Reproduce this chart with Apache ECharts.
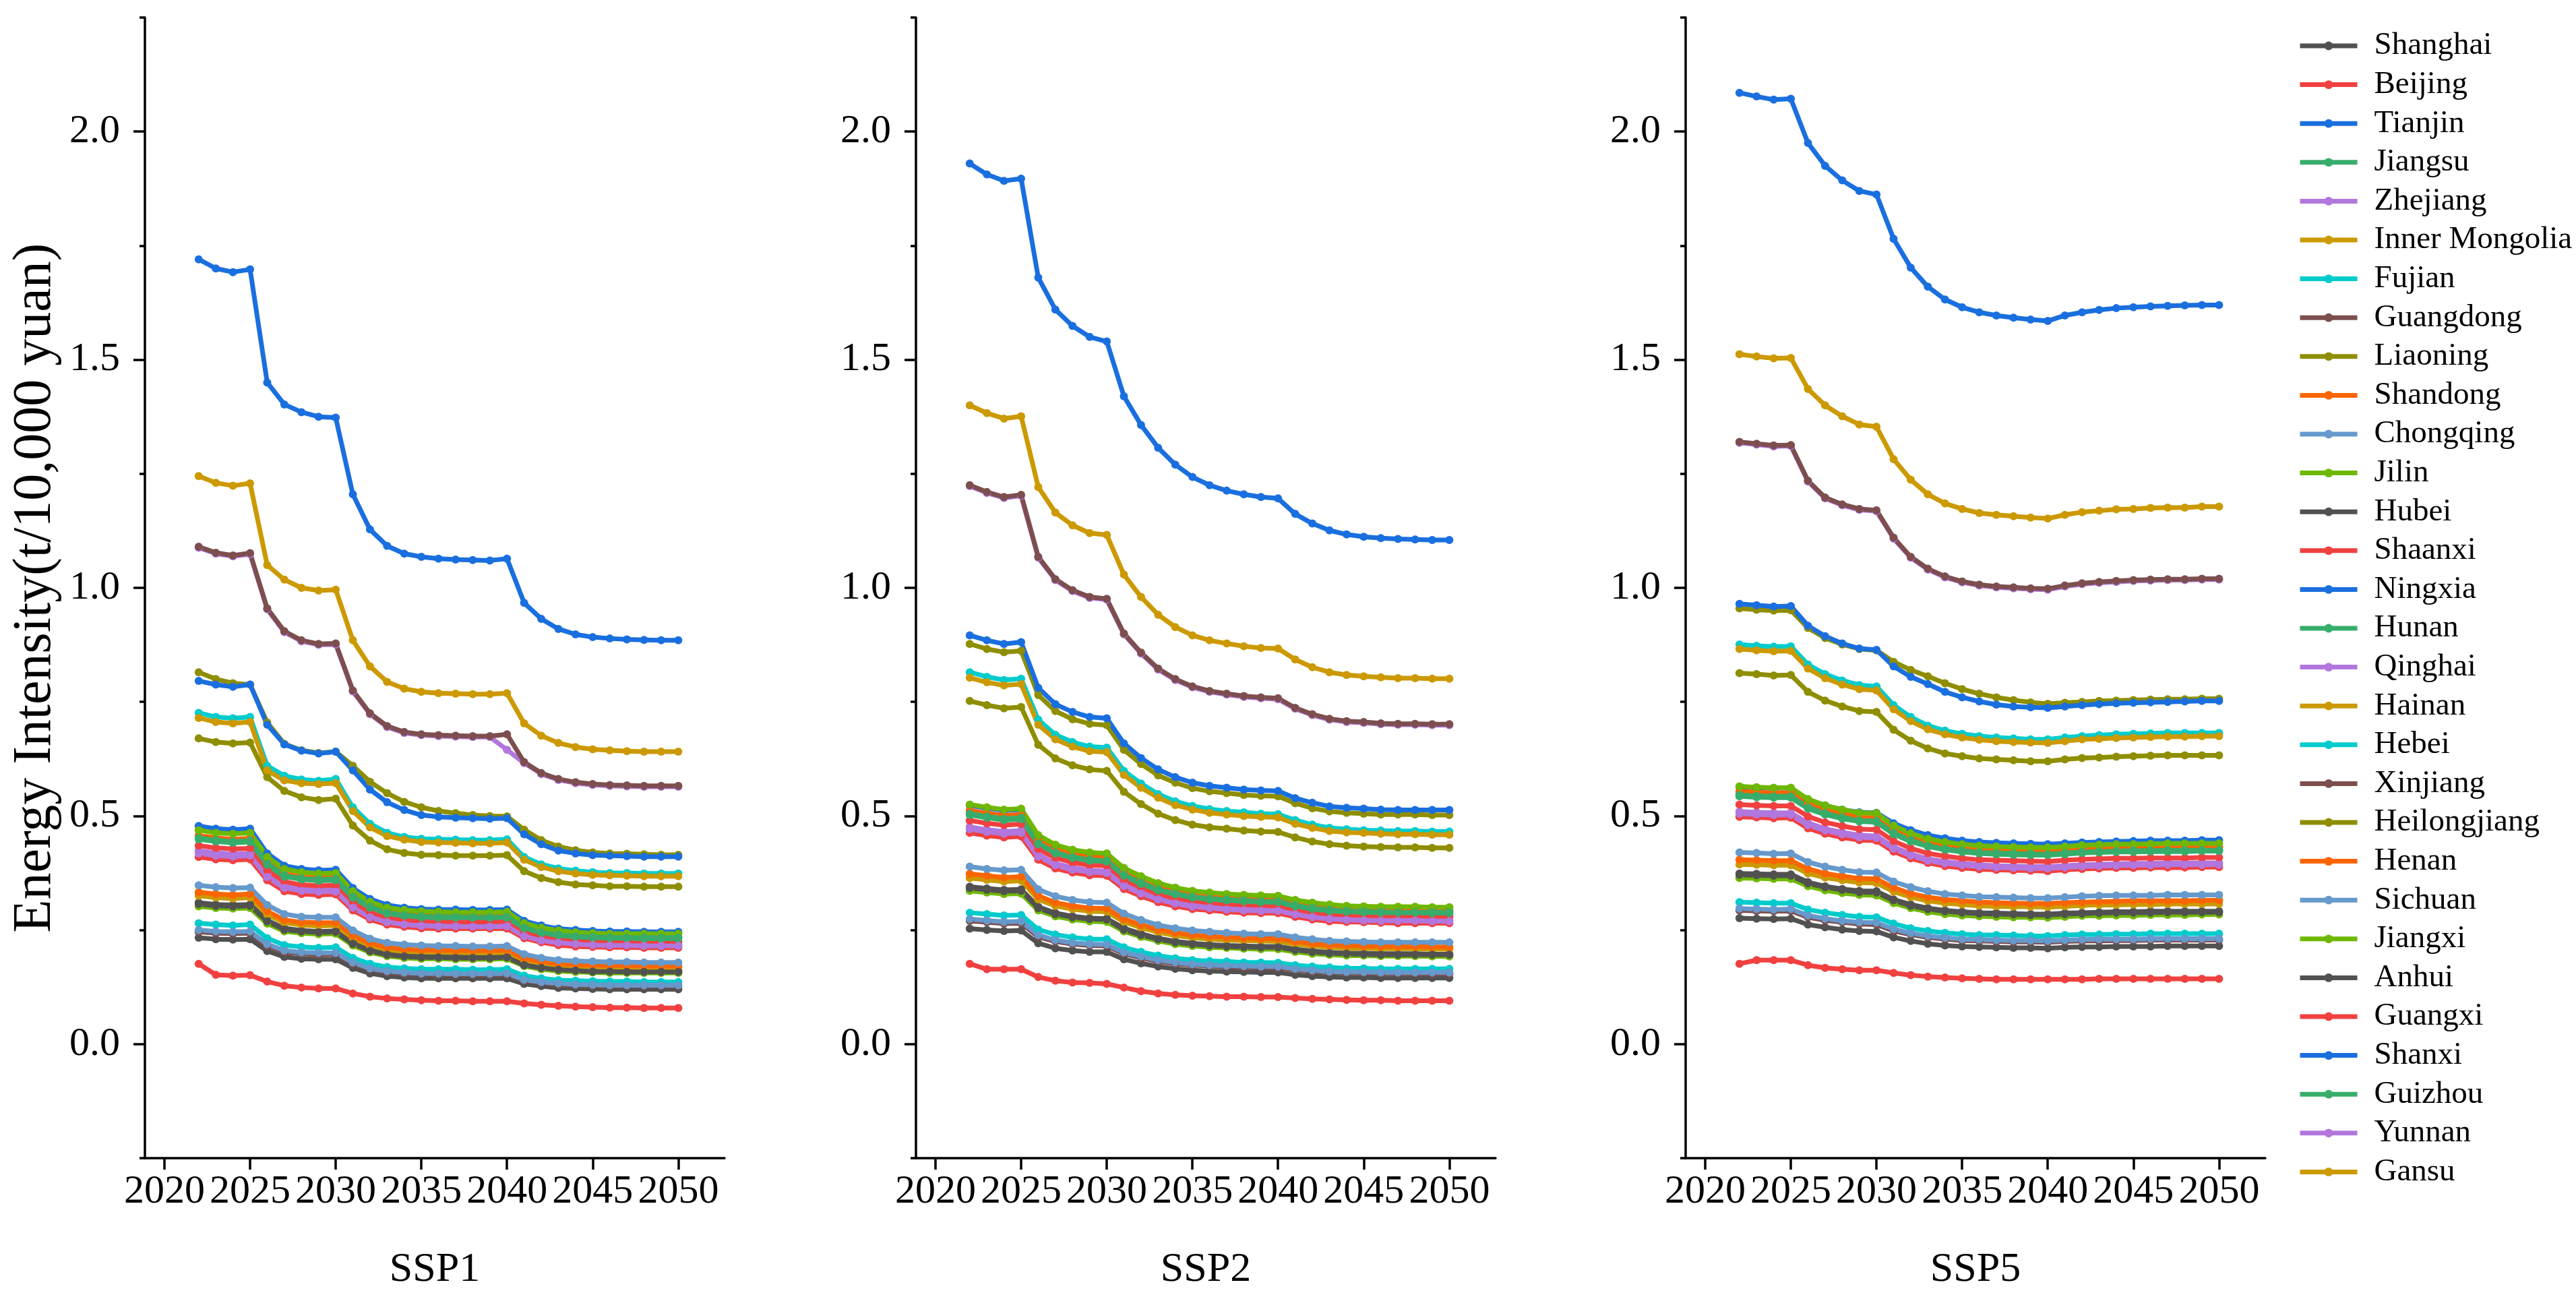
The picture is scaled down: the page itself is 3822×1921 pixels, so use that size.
<!DOCTYPE html>
<html>
<head>
<meta charset="utf-8">
<script src="https://cdn.jsdelivr.net/npm/echarts@6.0.0/dist/echarts.min.js"></script>
<style>html,body{margin:0;padding:0;background:#fff}#c{width:3822px;height:1921px}</style>
</head>
<body>
<div id="c"></div>
<script>
const years = [2022,2023,2024,2025,2026,2027,2028,2029,2030,2031,2032,2033,2034,2035,2036,2037,2038,2039,2040,2041,2042,2043,2044,2045,2046,2047,2048,2049,2050];
const provinces = ['Shanghai','Beijing','Tianjin','Jiangsu','Zhejiang','Inner Mongolia','Fujian','Guangdong','Liaoning','Shandong','Chongqing','Jilin','Hubei','Shaanxi','Ningxia','Hunan','Qinghai','Hainan','Hebei','Xinjiang','Heilongjiang','Henan','Sichuan','Jiangxi','Anhui','Guangxi','Shanxi','Guizhou','Yunnan','Gansu'];
const palette = ['#515151','#F14040','#1A6FDF','#37AD6B','#B177DE','#CC9900','#00CBCC','#7D4E4E','#8E8E00','#FB6501','#6699CC','#6FB802'];
const scenarios = ['SSP1','SSP2','SSP5'];
const xTicks = [2020,2025,2030,2035,2040,2045,2050];
const yTicks = [0,0.5,1,1.5,2];
const yMinorTicks = [-0.25,0.25,0.75,1.25,1.75,2.25];

// ---------- SSP1 ----------
const s1_Shanghai = [0.233,0.230,0.229,0.230,0.204,0.191,0.187,0.186,0.186,0.167,0.155,0.149,0.146,0.144,0.144,0.144,0.144,0.144,0.144,0.132,0.127,0.123,0.122,0.121,0.120,0.120,0.120,0.120,0.120];
const s1_Beijing = [0.176,0.152,0.150,0.151,0.137,0.128,0.124,0.122,0.122,0.111,0.104,0.100,0.098,0.096,0.095,0.095,0.094,0.094,0.094,0.089,0.086,0.084,0.082,0.081,0.080,0.080,0.079,0.079,0.079];
const s1_Tianjin = [0.478,0.472,0.470,0.472,0.418,0.391,0.384,0.381,0.382,0.342,0.318,0.305,0.299,0.296,0.295,0.295,0.294,0.294,0.295,0.270,0.260,0.253,0.250,0.248,0.247,0.247,0.246,0.246,0.246];
const s1_Jiangsu = [0.455,0.450,0.447,0.449,0.398,0.372,0.365,0.363,0.364,0.325,0.303,0.290,0.285,0.282,0.281,0.281,0.280,0.280,0.281,0.257,0.247,0.241,0.238,0.236,0.235,0.235,0.234,0.234,0.234];
const s1_Zhejiang = [0.424,0.419,0.417,0.418,0.371,0.347,0.340,0.338,0.339,0.303,0.282,0.271,0.265,0.263,0.262,0.262,0.261,0.261,0.262,0.240,0.230,0.225,0.222,0.220,0.219,0.219,0.218,0.218,0.218];
const s1_InnerMongolia = [1.245,1.230,1.224,1.229,1.050,1.018,1.000,0.994,0.996,0.885,0.828,0.794,0.779,0.772,0.769,0.768,0.767,0.767,0.769,0.703,0.676,0.660,0.651,0.646,0.644,0.642,0.641,0.641,0.641];
const s1_Fujian = [0.265,0.262,0.260,0.262,0.232,0.217,0.213,0.211,0.212,0.189,0.176,0.169,0.166,0.164,0.164,0.164,0.163,0.163,0.164,0.150,0.144,0.140,0.139,0.138,0.137,0.137,0.136,0.136,0.136];
const s1_Guangdong = [0.246,0.243,0.242,0.243,0.215,0.201,0.198,0.196,0.197,0.176,0.164,0.157,0.154,0.153,0.152,0.152,0.152,0.152,0.152,0.139,0.134,0.130,0.129,0.128,0.127,0.127,0.127,0.127,0.127];
const s1_Liaoning = [0.815,0.800,0.791,0.788,0.705,0.658,0.644,0.638,0.641,0.610,0.575,0.550,0.531,0.519,0.511,0.506,0.502,0.500,0.499,0.470,0.447,0.433,0.425,0.420,0.418,0.417,0.416,0.415,0.415];
const s1_Shandong = [0.457,0.452,0.449,0.451,0.400,0.374,0.367,0.365,0.366,0.327,0.304,0.292,0.286,0.283,0.282,0.282,0.282,0.282,0.282,0.258,0.248,0.242,0.239,0.237,0.236,0.236,0.235,0.235,0.235];
const s1_Chongqing = [0.250,0.247,0.246,0.247,0.219,0.205,0.201,0.200,0.200,0.179,0.166,0.160,0.157,0.155,0.155,0.154,0.154,0.154,0.155,0.141,0.136,0.133,0.131,0.130,0.129,0.129,0.129,0.129,0.129];
const s1_Jilin = [0.469,0.463,0.461,0.463,0.410,0.384,0.377,0.374,0.375,0.335,0.312,0.299,0.294,0.291,0.290,0.289,0.289,0.289,0.290,0.265,0.255,0.249,0.245,0.243,0.242,0.242,0.242,0.242,0.242];
const s1_Hubei = [0.310,0.306,0.305,0.306,0.271,0.254,0.249,0.247,0.248,0.222,0.206,0.198,0.194,0.192,0.192,0.191,0.191,0.191,0.192,0.175,0.168,0.164,0.162,0.161,0.160,0.160,0.160,0.160,0.160];
const s1_Shaanxi = [0.435,0.430,0.428,0.429,0.381,0.356,0.349,0.347,0.348,0.311,0.289,0.278,0.272,0.270,0.269,0.268,0.268,0.268,0.269,0.246,0.236,0.231,0.228,0.226,0.225,0.224,0.224,0.224,0.224];
const s1_Ningxia = [1.720,1.700,1.692,1.698,1.450,1.402,1.385,1.375,1.373,1.205,1.128,1.092,1.075,1.068,1.064,1.062,1.061,1.060,1.064,0.967,0.932,0.910,0.898,0.892,0.889,0.887,0.886,0.885,0.885];
const s1_Hunan = [0.452,0.447,0.444,0.446,0.396,0.370,0.363,0.361,0.362,0.323,0.301,0.288,0.283,0.280,0.279,0.279,0.278,0.278,0.279,0.255,0.245,0.240,0.236,0.235,0.234,0.233,0.233,0.233,0.233];
const s1_Qinghai = [1.088,1.075,1.069,1.074,0.953,0.903,0.883,0.875,0.876,0.773,0.723,0.695,0.682,0.677,0.675,0.674,0.673,0.673,0.645,0.616,0.592,0.579,0.572,0.568,0.566,0.565,0.564,0.564,0.564];
const s1_Hainan = [0.325,0.321,0.319,0.321,0.284,0.266,0.261,0.259,0.260,0.232,0.216,0.207,0.203,0.202,0.201,0.201,0.200,0.200,0.201,0.184,0.176,0.172,0.170,0.169,0.168,0.168,0.167,0.167,0.167];
const s1_Hebei = [0.726,0.717,0.714,0.717,0.610,0.588,0.580,0.577,0.581,0.519,0.483,0.463,0.454,0.450,0.449,0.448,0.447,0.447,0.449,0.410,0.394,0.385,0.380,0.377,0.375,0.375,0.374,0.374,0.374];
const s1_Xinjiang = [1.090,1.077,1.071,1.076,0.955,0.905,0.885,0.877,0.878,0.775,0.725,0.697,0.684,0.679,0.677,0.676,0.675,0.675,0.679,0.618,0.594,0.581,0.574,0.570,0.568,0.567,0.566,0.566,0.566];
const s1_Heilongjiang = [0.670,0.662,0.659,0.661,0.585,0.555,0.541,0.535,0.538,0.479,0.446,0.427,0.419,0.415,0.414,0.413,0.413,0.413,0.414,0.379,0.364,0.355,0.350,0.348,0.346,0.346,0.345,0.345,0.345];
const s1_Henan = [0.333,0.329,0.327,0.329,0.291,0.272,0.267,0.266,0.266,0.238,0.221,0.212,0.208,0.206,0.206,0.205,0.205,0.205,0.206,0.188,0.181,0.176,0.174,0.173,0.172,0.172,0.171,0.171,0.171];
const s1_Sichuan = [0.348,0.344,0.342,0.343,0.305,0.285,0.279,0.278,0.278,0.249,0.231,0.222,0.218,0.216,0.215,0.215,0.214,0.214,0.215,0.197,0.189,0.184,0.182,0.181,0.180,0.180,0.179,0.179,0.179];
const s1_Jiangxi = [0.302,0.298,0.297,0.298,0.264,0.247,0.243,0.241,0.242,0.216,0.201,0.193,0.189,0.187,0.187,0.186,0.186,0.186,0.187,0.171,0.164,0.160,0.158,0.157,0.156,0.156,0.156,0.156,0.156];
const s1_Anhui = [0.307,0.303,0.302,0.303,0.269,0.251,0.247,0.245,0.246,0.220,0.204,0.196,0.192,0.190,0.190,0.189,0.189,0.189,0.190,0.173,0.167,0.163,0.161,0.159,0.159,0.158,0.158,0.158,0.158];
const s1_Guangxi = [0.410,0.405,0.403,0.405,0.359,0.335,0.329,0.327,0.328,0.293,0.273,0.262,0.257,0.254,0.253,0.253,0.253,0.253,0.253,0.232,0.223,0.217,0.214,0.213,0.212,0.212,0.211,0.211,0.211];
const s1_Shanxi = [0.796,0.788,0.783,0.788,0.700,0.657,0.643,0.637,0.641,0.600,0.558,0.530,0.513,0.502,0.498,0.496,0.495,0.494,0.495,0.460,0.438,0.424,0.418,0.414,0.413,0.412,0.411,0.411,0.411];
const s1_Guizhou = [0.449,0.444,0.441,0.443,0.393,0.367,0.361,0.358,0.359,0.321,0.299,0.286,0.281,0.278,0.277,0.277,0.277,0.277,0.277,0.254,0.244,0.238,0.235,0.233,0.232,0.232,0.231,0.231,0.231];
const s1_Yunnan = [0.418,0.413,0.411,0.413,0.366,0.342,0.336,0.334,0.334,0.299,0.278,0.267,0.262,0.259,0.258,0.258,0.257,0.257,0.258,0.236,0.227,0.222,0.219,0.217,0.216,0.216,0.215,0.215,0.215];
const s1_Gansu = [0.715,0.706,0.703,0.706,0.600,0.578,0.572,0.570,0.572,0.511,0.475,0.456,0.448,0.443,0.442,0.441,0.440,0.440,0.442,0.404,0.388,0.379,0.374,0.371,0.370,0.369,0.368,0.368,0.368];

// ---------- SSP2 ----------
const s2_Shanghai = [0.253,0.250,0.248,0.249,0.221,0.210,0.205,0.202,0.202,0.186,0.177,0.170,0.165,0.162,0.160,0.159,0.158,0.157,0.157,0.152,0.149,0.147,0.146,0.146,0.145,0.145,0.145,0.145,0.145];
const s2_Beijing = [0.176,0.164,0.164,0.164,0.147,0.139,0.135,0.134,0.132,0.124,0.116,0.111,0.108,0.106,0.105,0.104,0.104,0.103,0.103,0.101,0.099,0.098,0.097,0.096,0.096,0.095,0.095,0.095,0.095];
const s2_Tianjin = [0.523,0.517,0.512,0.514,0.456,0.435,0.425,0.418,0.417,0.384,0.366,0.351,0.342,0.335,0.331,0.328,0.326,0.324,0.324,0.315,0.309,0.304,0.302,0.301,0.300,0.300,0.300,0.299,0.299];
const s2_Jiangsu = [0.508,0.502,0.497,0.499,0.443,0.423,0.412,0.406,0.405,0.373,0.356,0.341,0.332,0.325,0.321,0.319,0.316,0.315,0.314,0.306,0.300,0.296,0.294,0.293,0.292,0.291,0.291,0.291,0.291];
const s2_Zhejiang = [0.476,0.470,0.466,0.468,0.415,0.396,0.387,0.381,0.379,0.350,0.333,0.320,0.311,0.305,0.301,0.298,0.297,0.295,0.295,0.287,0.281,0.277,0.275,0.274,0.273,0.273,0.273,0.272,0.272];
const s2_InnerMongolia = [1.400,1.383,1.371,1.376,1.221,1.165,1.137,1.120,1.116,1.029,0.980,0.941,0.914,0.896,0.885,0.878,0.872,0.868,0.867,0.843,0.826,0.815,0.809,0.806,0.804,0.802,0.802,0.801,0.801];
const s2_Fujian = [0.288,0.285,0.282,0.283,0.251,0.240,0.234,0.230,0.230,0.212,0.202,0.194,0.188,0.184,0.182,0.181,0.179,0.179,0.178,0.173,0.170,0.168,0.166,0.166,0.165,0.165,0.165,0.165,0.165];
const s2_Guangdong = [0.270,0.267,0.264,0.265,0.235,0.225,0.219,0.216,0.215,0.198,0.189,0.181,0.176,0.173,0.171,0.169,0.168,0.167,0.167,0.163,0.159,0.157,0.156,0.156,0.155,0.155,0.155,0.154,0.154];
const s2_Liaoning = [0.877,0.866,0.859,0.862,0.765,0.730,0.712,0.702,0.699,0.645,0.614,0.589,0.573,0.561,0.554,0.550,0.546,0.544,0.543,0.528,0.517,0.510,0.507,0.505,0.503,0.503,0.503,0.502,0.502];
const s2_Shandong = [0.512,0.506,0.501,0.503,0.446,0.426,0.416,0.410,0.408,0.376,0.358,0.344,0.334,0.328,0.324,0.321,0.319,0.317,0.317,0.308,0.302,0.298,0.296,0.295,0.294,0.293,0.293,0.293,0.293];
const s2_Chongqing = [0.274,0.271,0.268,0.269,0.239,0.228,0.222,0.219,0.218,0.201,0.192,0.184,0.179,0.175,0.173,0.172,0.171,0.170,0.170,0.165,0.162,0.159,0.158,0.158,0.157,0.157,0.157,0.157,0.157];
const s2_Jilin = [0.525,0.519,0.514,0.516,0.458,0.437,0.426,0.420,0.418,0.386,0.368,0.353,0.343,0.336,0.332,0.329,0.327,0.326,0.325,0.316,0.310,0.306,0.303,0.302,0.301,0.301,0.301,0.300,0.300];
const s2_Hubei = [0.345,0.341,0.338,0.339,0.301,0.287,0.280,0.276,0.275,0.254,0.242,0.232,0.225,0.221,0.218,0.216,0.215,0.214,0.214,0.208,0.204,0.201,0.199,0.199,0.198,0.198,0.198,0.197,0.197];
const s2_Shaanxi = [0.490,0.484,0.480,0.482,0.427,0.408,0.398,0.392,0.391,0.360,0.343,0.329,0.320,0.314,0.310,0.307,0.305,0.304,0.303,0.295,0.289,0.285,0.283,0.282,0.281,0.281,0.281,0.280,0.280];
const s2_Ningxia = [1.930,1.906,1.892,1.897,1.680,1.610,1.574,1.550,1.540,1.420,1.357,1.307,1.270,1.243,1.225,1.213,1.205,1.199,1.196,1.162,1.141,1.126,1.117,1.112,1.109,1.107,1.106,1.105,1.105];
const s2_Hunan = [0.505,0.499,0.494,0.496,0.440,0.420,0.410,0.404,0.402,0.371,0.354,0.339,0.330,0.323,0.319,0.317,0.315,0.313,0.313,0.304,0.298,0.294,0.292,0.291,0.290,0.289,0.289,0.289,0.289];
const s2_Qinghai = [1.223,1.208,1.197,1.202,1.066,1.017,0.993,0.978,0.974,0.898,0.856,0.821,0.798,0.782,0.772,0.766,0.761,0.758,0.756,0.735,0.721,0.711,0.706,0.704,0.701,0.700,0.700,0.699,0.699];
const s2_Hainan = [0.364,0.360,0.356,0.358,0.317,0.303,0.296,0.291,0.290,0.268,0.255,0.245,0.238,0.233,0.230,0.228,0.227,0.226,0.225,0.219,0.215,0.212,0.210,0.210,0.209,0.209,0.209,0.208,0.208];
const s2_Hebei = [0.815,0.805,0.798,0.801,0.711,0.678,0.662,0.652,0.650,0.599,0.571,0.548,0.532,0.522,0.515,0.511,0.508,0.505,0.504,0.491,0.481,0.474,0.471,0.469,0.468,0.467,0.467,0.466,0.466];
const s2_Xinjiang = [1.225,1.210,1.199,1.204,1.068,1.019,0.995,0.980,0.976,0.900,0.858,0.823,0.800,0.784,0.774,0.768,0.763,0.760,0.758,0.737,0.723,0.713,0.708,0.706,0.703,0.702,0.702,0.701,0.701];
const s2_Heilongjiang = [0.752,0.743,0.736,0.739,0.656,0.626,0.611,0.602,0.599,0.553,0.526,0.505,0.491,0.481,0.475,0.472,0.468,0.466,0.465,0.453,0.444,0.438,0.435,0.433,0.432,0.431,0.431,0.430,0.430];
const s2_Henan = [0.373,0.369,0.365,0.367,0.325,0.310,0.303,0.298,0.297,0.274,0.261,0.251,0.244,0.239,0.236,0.234,0.232,0.231,0.231,0.225,0.220,0.217,0.216,0.215,0.214,0.214,0.214,0.213,0.213];
const s2_Sichuan = [0.389,0.384,0.381,0.382,0.339,0.324,0.316,0.311,0.310,0.286,0.272,0.261,0.254,0.249,0.246,0.244,0.242,0.241,0.241,0.234,0.230,0.226,0.225,0.224,0.223,0.223,0.223,0.223,0.223];
const s2_Jiangxi = [0.336,0.332,0.329,0.330,0.293,0.280,0.273,0.269,0.268,0.247,0.235,0.226,0.219,0.215,0.212,0.211,0.209,0.208,0.208,0.202,0.198,0.196,0.194,0.194,0.193,0.193,0.193,0.192,0.192];
const s2_Anhui = [0.342,0.338,0.335,0.336,0.298,0.285,0.278,0.274,0.273,0.251,0.239,0.230,0.223,0.219,0.216,0.214,0.213,0.212,0.212,0.206,0.202,0.199,0.198,0.197,0.196,0.196,0.196,0.196,0.196];
const s2_Guangxi = [0.463,0.457,0.453,0.455,0.404,0.385,0.376,0.370,0.369,0.340,0.324,0.311,0.302,0.296,0.293,0.290,0.288,0.287,0.287,0.279,0.273,0.269,0.268,0.267,0.266,0.265,0.265,0.265,0.265];
const s2_Shanxi = [0.896,0.885,0.877,0.881,0.781,0.745,0.728,0.717,0.714,0.659,0.627,0.602,0.585,0.573,0.566,0.562,0.558,0.556,0.555,0.539,0.529,0.521,0.518,0.516,0.514,0.513,0.513,0.513,0.513];
const s2_Guizhou = [0.502,0.496,0.491,0.493,0.438,0.418,0.408,0.402,0.400,0.369,0.351,0.337,0.328,0.321,0.317,0.315,0.313,0.311,0.311,0.302,0.296,0.292,0.290,0.289,0.288,0.288,0.288,0.287,0.287];
const s2_Yunnan = [0.471,0.465,0.461,0.463,0.411,0.392,0.382,0.377,0.375,0.346,0.330,0.317,0.308,0.301,0.298,0.295,0.293,0.292,0.292,0.284,0.278,0.274,0.272,0.271,0.270,0.270,0.270,0.269,0.269];
const s2_Gansu = [0.803,0.793,0.786,0.789,0.700,0.668,0.652,0.642,0.640,0.590,0.562,0.540,0.524,0.514,0.507,0.503,0.500,0.498,0.497,0.483,0.474,0.467,0.464,0.463,0.461,0.460,0.460,0.459,0.459];

// ---------- SSP5 ----------
const s5_Shanghai = [0.276,0.275,0.274,0.275,0.262,0.256,0.251,0.248,0.247,0.234,0.226,0.220,0.216,0.214,0.213,0.212,0.211,0.211,0.210,0.212,0.213,0.213,0.214,0.214,0.214,0.215,0.215,0.215,0.215];
const s5_Beijing = [0.176,0.184,0.184,0.184,0.173,0.167,0.164,0.162,0.162,0.156,0.151,0.148,0.146,0.144,0.143,0.142,0.142,0.142,0.142,0.142,0.142,0.143,0.143,0.143,0.143,0.143,0.143,0.143,0.143];
const s5_Tianjin = [0.564,0.562,0.561,0.561,0.536,0.523,0.514,0.508,0.507,0.484,0.469,0.458,0.451,0.446,0.443,0.441,0.440,0.439,0.438,0.440,0.442,0.443,0.444,0.445,0.446,0.446,0.446,0.447,0.447];
const s5_Jiangsu = [0.549,0.547,0.546,0.546,0.522,0.508,0.500,0.493,0.491,0.466,0.449,0.438,0.430,0.426,0.423,0.421,0.420,0.419,0.418,0.421,0.423,0.424,0.425,0.426,0.427,0.427,0.427,0.428,0.428];
const s5_Zhejiang = [0.510,0.508,0.507,0.507,0.485,0.472,0.464,0.458,0.456,0.432,0.417,0.406,0.400,0.396,0.393,0.391,0.390,0.389,0.389,0.391,0.393,0.394,0.395,0.396,0.396,0.397,0.397,0.397,0.397];
const s5_InnerMongolia = [1.512,1.507,1.503,1.504,1.436,1.400,1.376,1.358,1.353,1.282,1.237,1.205,1.185,1.173,1.164,1.160,1.157,1.154,1.152,1.160,1.166,1.169,1.172,1.173,1.175,1.176,1.176,1.178,1.178];
const s5_Fujian = [0.311,0.310,0.309,0.309,0.295,0.288,0.283,0.279,0.278,0.264,0.254,0.248,0.244,0.241,0.239,0.239,0.238,0.237,0.237,0.239,0.240,0.240,0.241,0.241,0.242,0.242,0.242,0.242,0.242];
const s5_Guangdong = [0.293,0.292,0.291,0.292,0.278,0.271,0.267,0.263,0.262,0.248,0.240,0.234,0.230,0.227,0.226,0.225,0.224,0.224,0.223,0.225,0.226,0.226,0.227,0.227,0.228,0.228,0.228,0.228,0.228];
const s5_Liaoning = [0.955,0.952,0.950,0.951,0.912,0.890,0.876,0.866,0.863,0.838,0.820,0.806,0.791,0.778,0.768,0.760,0.754,0.749,0.746,0.748,0.750,0.752,0.753,0.754,0.755,0.756,0.756,0.757,0.757];
const s5_Shandong = [0.554,0.552,0.551,0.551,0.526,0.513,0.504,0.497,0.496,0.470,0.453,0.442,0.434,0.430,0.427,0.425,0.424,0.423,0.422,0.425,0.427,0.428,0.429,0.430,0.430,0.431,0.431,0.432,0.432];
const s5_Chongqing = [0.297,0.296,0.295,0.296,0.282,0.275,0.270,0.267,0.266,0.252,0.243,0.237,0.233,0.230,0.229,0.228,0.227,0.227,0.226,0.228,0.229,0.230,0.230,0.230,0.231,0.231,0.231,0.231,0.231];
const s5_Jilin = [0.565,0.563,0.562,0.562,0.537,0.523,0.514,0.507,0.506,0.479,0.462,0.450,0.443,0.438,0.435,0.433,0.432,0.431,0.431,0.433,0.436,0.437,0.438,0.438,0.439,0.440,0.440,0.440,0.440];
const s5_Hubei = [0.374,0.373,0.372,0.372,0.355,0.346,0.340,0.336,0.335,0.317,0.306,0.298,0.293,0.290,0.288,0.287,0.286,0.285,0.285,0.287,0.288,0.289,0.290,0.290,0.291,0.291,0.291,0.291,0.291];
const s5_Shaanxi = [0.525,0.523,0.522,0.522,0.499,0.486,0.478,0.471,0.470,0.445,0.429,0.418,0.412,0.407,0.404,0.403,0.402,0.401,0.400,0.403,0.405,0.406,0.407,0.407,0.408,0.408,0.408,0.409,0.409];
const s5_Ningxia = [2.085,2.077,2.070,2.072,1.975,1.925,1.893,1.870,1.862,1.765,1.702,1.660,1.632,1.615,1.604,1.597,1.592,1.588,1.585,1.597,1.604,1.609,1.613,1.615,1.617,1.618,1.619,1.620,1.620];
const s5_Hunan = [0.546,0.544,0.543,0.543,0.519,0.506,0.497,0.490,0.489,0.463,0.447,0.435,0.428,0.424,0.420,0.419,0.418,0.417,0.416,0.419,0.421,0.422,0.423,0.424,0.424,0.425,0.425,0.425,0.425];
const s5_Qinghai = [1.318,1.314,1.310,1.311,1.233,1.196,1.181,1.171,1.168,1.108,1.066,1.040,1.023,1.012,1.005,1.001,0.999,0.997,0.996,1.003,1.008,1.011,1.013,1.015,1.016,1.017,1.017,1.018,1.018];
const s5_Hainan = [0.394,0.393,0.392,0.392,0.374,0.365,0.359,0.354,0.353,0.334,0.322,0.314,0.309,0.306,0.303,0.302,0.301,0.301,0.300,0.302,0.304,0.305,0.305,0.306,0.306,0.307,0.307,0.307,0.307];
const s5_Hebei = [0.876,0.873,0.871,0.872,0.832,0.811,0.797,0.787,0.784,0.743,0.717,0.698,0.687,0.680,0.675,0.672,0.670,0.668,0.668,0.672,0.675,0.677,0.679,0.680,0.681,0.682,0.682,0.682,0.682];
const s5_Xinjiang = [1.320,1.316,1.312,1.313,1.235,1.198,1.183,1.173,1.170,1.110,1.068,1.042,1.025,1.014,1.007,1.003,1.001,0.999,0.998,1.005,1.010,1.013,1.015,1.017,1.018,1.019,1.019,1.020,1.020];
const s5_Heilongjiang = [0.813,0.811,0.808,0.809,0.772,0.753,0.740,0.730,0.728,0.689,0.665,0.648,0.637,0.631,0.626,0.624,0.622,0.620,0.620,0.624,0.627,0.628,0.630,0.631,0.632,0.633,0.633,0.633,0.633];
const s5_Henan = [0.404,0.403,0.402,0.402,0.384,0.374,0.368,0.363,0.362,0.343,0.330,0.322,0.317,0.314,0.311,0.310,0.309,0.308,0.308,0.310,0.311,0.312,0.313,0.314,0.314,0.314,0.314,0.315,0.315];
const s5_Sichuan = [0.420,0.419,0.417,0.418,0.399,0.389,0.382,0.377,0.376,0.356,0.344,0.335,0.329,0.326,0.323,0.322,0.321,0.320,0.320,0.322,0.324,0.325,0.326,0.326,0.326,0.327,0.327,0.327,0.327];
const s5_Jiangxi = [0.364,0.363,0.362,0.362,0.346,0.337,0.331,0.327,0.326,0.309,0.298,0.290,0.285,0.282,0.280,0.279,0.278,0.278,0.277,0.279,0.281,0.281,0.282,0.282,0.283,0.283,0.283,0.284,0.284];
const s5_Anhui = [0.371,0.370,0.369,0.369,0.352,0.344,0.338,0.333,0.332,0.315,0.303,0.296,0.291,0.288,0.286,0.285,0.284,0.283,0.283,0.285,0.286,0.287,0.288,0.288,0.288,0.289,0.289,0.289,0.289];
const s5_Guangxi = [0.498,0.497,0.495,0.496,0.473,0.461,0.453,0.447,0.446,0.422,0.407,0.397,0.390,0.386,0.383,0.382,0.381,0.380,0.379,0.382,0.384,0.385,0.386,0.386,0.387,0.387,0.387,0.388,0.388];
const s5_Shanxi = [0.965,0.962,0.959,0.960,0.917,0.894,0.878,0.867,0.864,0.828,0.805,0.789,0.772,0.760,0.751,0.744,0.740,0.738,0.737,0.740,0.743,0.745,0.747,0.748,0.749,0.750,0.751,0.752,0.752];
const s5_Guizhou = [0.543,0.541,0.540,0.540,0.516,0.503,0.494,0.488,0.486,0.460,0.444,0.433,0.426,0.421,0.418,0.416,0.415,0.414,0.414,0.416,0.419,0.420,0.421,0.421,0.422,0.422,0.422,0.423,0.423];
const s5_Yunnan = [0.505,0.503,0.502,0.502,0.480,0.468,0.460,0.453,0.452,0.428,0.413,0.402,0.396,0.392,0.389,0.387,0.386,0.385,0.385,0.387,0.389,0.390,0.391,0.392,0.392,0.393,0.393,0.393,0.393];
const s5_Gansu = [0.866,0.863,0.861,0.862,0.823,0.802,0.788,0.778,0.775,0.734,0.708,0.690,0.679,0.672,0.667,0.664,0.662,0.661,0.660,0.664,0.668,0.669,0.671,0.672,0.673,0.674,0.674,0.675,0.675];

const SSP1 = [s1_Shanghai,s1_Beijing,s1_Tianjin,s1_Jiangsu,s1_Zhejiang,s1_InnerMongolia,s1_Fujian,s1_Guangdong,s1_Liaoning,s1_Shandong,s1_Chongqing,s1_Jilin,s1_Hubei,s1_Shaanxi,s1_Ningxia,s1_Hunan,s1_Qinghai,s1_Hainan,s1_Hebei,s1_Xinjiang,s1_Heilongjiang,s1_Henan,s1_Sichuan,s1_Jiangxi,s1_Anhui,s1_Guangxi,s1_Shanxi,s1_Guizhou,s1_Yunnan,s1_Gansu];
const SSP2 = [s2_Shanghai,s2_Beijing,s2_Tianjin,s2_Jiangsu,s2_Zhejiang,s2_InnerMongolia,s2_Fujian,s2_Guangdong,s2_Liaoning,s2_Shandong,s2_Chongqing,s2_Jilin,s2_Hubei,s2_Shaanxi,s2_Ningxia,s2_Hunan,s2_Qinghai,s2_Hainan,s2_Hebei,s2_Xinjiang,s2_Heilongjiang,s2_Henan,s2_Sichuan,s2_Jiangxi,s2_Anhui,s2_Guangxi,s2_Shanxi,s2_Guizhou,s2_Yunnan,s2_Gansu];
const SSP5 = [s5_Shanghai,s5_Beijing,s5_Tianjin,s5_Jiangsu,s5_Zhejiang,s5_InnerMongolia,s5_Fujian,s5_Guangdong,s5_Liaoning,s5_Shandong,s5_Chongqing,s5_Jilin,s5_Hubei,s5_Shaanxi,s5_Ningxia,s5_Hunan,s5_Qinghai,s5_Hainan,s5_Hebei,s5_Xinjiang,s5_Heilongjiang,s5_Henan,s5_Sichuan,s5_Jiangxi,s5_Anhui,s5_Guangxi,s5_Shanxi,s5_Guizhou,s5_Yunnan,s5_Gansu];

// ---------- layout ----------
const FONT = "'Liberation Serif','Times New Roman',serif";
const gridLefts = [215, 1359, 2501];
const GRID_TOP = 26, GRID_W = 860, GRID_H = 1692;
const LINE_W = 7, SYMBOL = 12;

const chart = echarts.init(document.getElementById('c'), null, {renderer: 'canvas'});

const grid = gridLefts.map(l => ({left: l, top: GRID_TOP, width: GRID_W, height: GRID_H}));
const axisLineStyle = {color: '#000', width: 3.5};

const xAxis = scenarios.map((s, p) => ({
  type: 'value', gridIndex: p, min: 2018.86, max: 2052.7,
  name: s, nameLocation: 'middle', nameGap: 135,
  nameTextStyle: {fontFamily: FONT, fontSize: 62, color: '#000'},
  axisLine: {show: true, onZero: false, lineStyle: axisLineStyle},
  axisTick: {show: true, customValues: xTicks, length: 17, inside: false, lineStyle: axisLineStyle},
  axisLabel: {show: true, customValues: xTicks, fontFamily: FONT, fontSize: 60, color: '#000', margin: 20,
              hideOverlap: false, showMinLabel: true, showMaxLabel: true,
              formatter: v => String(Math.round(v))},
  splitLine: {show: false}
}));

const yMain = scenarios.map((s, p) => ({
  type: 'value', gridIndex: p, min: -0.25, max: 2.25, position: 'left',
  name: p === 0 ? 'Energy Intensity(t/10,000 yuan)' : '',
  nameLocation: 'middle', nameRotate: 90, nameGap: 122,
  nameTextStyle: {fontFamily: FONT, fontSize: 80, color: '#000'},
  axisLine: {show: true, onZero: false, lineStyle: axisLineStyle},
  axisTick: {show: true, customValues: yTicks, length: 17, inside: false, lineStyle: axisLineStyle},
  axisLabel: {show: true, customValues: yTicks, fontFamily: FONT, fontSize: 60, color: '#000', margin: 37,
              hideOverlap: false, formatter: v => Number(v).toFixed(1)},
  splitLine: {show: false}
}));
const yMinor = scenarios.map((s, p) => ({
  type: 'value', gridIndex: p, min: -0.25, max: 2.25, position: 'left',
  axisLine: {show: false, onZero: false},
  axisTick: {show: true, customValues: yMinorTicks, length: 8, inside: false, lineStyle: axisLineStyle},
  axisLabel: {show: false},
  splitLine: {show: false}
}));

const series = [];
[SSP1, SSP2, SSP5].forEach((table, p) => {
  table.forEach((vals, i) => {
    const col = palette[i % palette.length];
    series.push({
      type: 'line', name: provinces[i], xAxisIndex: p, yAxisIndex: p,
      data: vals.map((v, k) => [years[k], v]),
      symbol: 'circle', symbolSize: SYMBOL, showSymbol: true,
      itemStyle: {color: col},
      lineStyle: {color: col, width: LINE_W},
      emphasis: {disabled: true},
      animation: false
    });
  });
});

chart.setOption({
  animation: false,
  backgroundColor: '#fff',
  grid: grid,
  xAxis: xAxis,
  yAxis: yMain.concat(yMinor),
  legend: {
    data: provinces, orient: 'vertical', left: 3404, top: 37,
    itemWidth: 85, itemHeight: 16, itemGap: 5.6, selectedMode: false,
    lineStyle: {width: LINE_W},
    textStyle: {fontFamily: FONT, fontSize: 47, lineHeight: 52, color: '#000', padding: [0, 0, 0, 20]}
  },
  series: series
});
</script>
</body>
</html>
